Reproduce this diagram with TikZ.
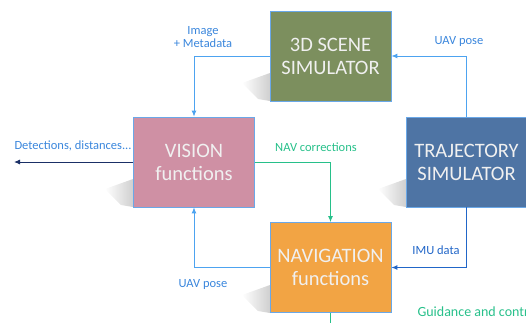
\documentclass[tikz,border=0pt]{standalone}
\usepackage{fontspec}
\setmainfont{Carlito}
\usepackage{xcolor}
\usetikzlibrary{arrows.meta,positioning,fadings}

\definecolor{scenegreen}{HTML}{7C8F5E}
\definecolor{visionpink}{HTML}{CF90A4}
\definecolor{trajblue}{HTML}{4E74A4}
\definecolor{navorange}{HTML}{F2A444}
\definecolor{boxedge}{HTML}{6AA8E8}
\definecolor{lineblue}{HTML}{4DA3F0}
\definecolor{imublue}{HTML}{2166C8}
\definecolor{labelblue}{HTML}{3A86DC}
\definecolor{corrgreen}{HTML}{27C08A}
\definecolor{detnavy}{HTML}{1A2F66}

\begin{document}
\begin{tikzpicture}[x=1pt,y=-1pt,
	block/.style={draw=boxedge,line width=0.8pt,minimum width=121pt,minimum height=90pt,
		text=white!94!black,align=center,font=\fontsize{20.5}{23}\selectfont},
	lbl/.style={font=\fontsize{12.5}{13.5}\selectfont,text=labelblue,align=center},
	flow/.style={line width=0.9pt,-{Latex[length=6pt,width=5pt]}},
	dropshade/.style={fill=gray!38,path fading=west}]
	\useasboundingbox (0,0) rectangle (526,322);
	\clip (0,0) rectangle (526,322);
	% shadows
	\foreach \l/\b in {270/101,133/207,406/207,270/313}{
		\fill[dropshade] (\l,\b-28) -- (\l-28,\b-18) -- (\l-12,\b-2) -- (\l,\b) -- cycle;
	}
	% blocks
	\node[block,fill=scenegreen] (scene) at (330.5,56) {3D SCENE\\SIMULATOR};
	\node[block,fill=visionpink] (vision) at (194,162) {VISION\\functions};
	\node[block,fill=trajblue] (traj) at (466.5,162) {TRAJECTORY\\SIMULATOR};
	\node[block,fill=navorange] (nav) at (330.5,267.5) {NAVIGATION\\functions};
	\coordinate (det) at (14,162);
	\coordinate (guid) at (330.5,330);
	% connectors
	\draw[flow,lineblue] (scene.west) -| (vision.north);
	\draw[flow,lineblue] (traj.north) |- (scene.east);
	\draw[flow,corrgreen] (vision.east) -| (nav.north);
	\draw[flow,imublue] (traj.south) |- (nav.east);
	\draw[flow,lineblue] (nav.west) -| (vision.south);
	\draw[flow,detnavy] (vision.west) -- (det);
	\draw[line width=0.9pt,corrgreen] (nav.south) -- (guid);
	% labels
	\node[lbl] (imglbl) at (203,37) {Image\\+ Metadata};
	\node[lbl] (posetop) at (459,41) {UAV pose};
	\node[lbl,text=corrgreen] (corrlbl) at (316,147) {NAV corrections};
	\node[lbl,text=imublue] (imulbl) at (436,250) {IMU data};
	\node[lbl] (posebot) at (203,284) {UAV pose};
	\node[lbl] (detlbl) at (73,146) {Detections, distances...};
	\node[lbl,text=corrgreen,anchor=west,font=\fontsize{14}{15}\selectfont] (guidlbl) at (414,312) {Guidance and control};
\end{tikzpicture}
\end{document}
